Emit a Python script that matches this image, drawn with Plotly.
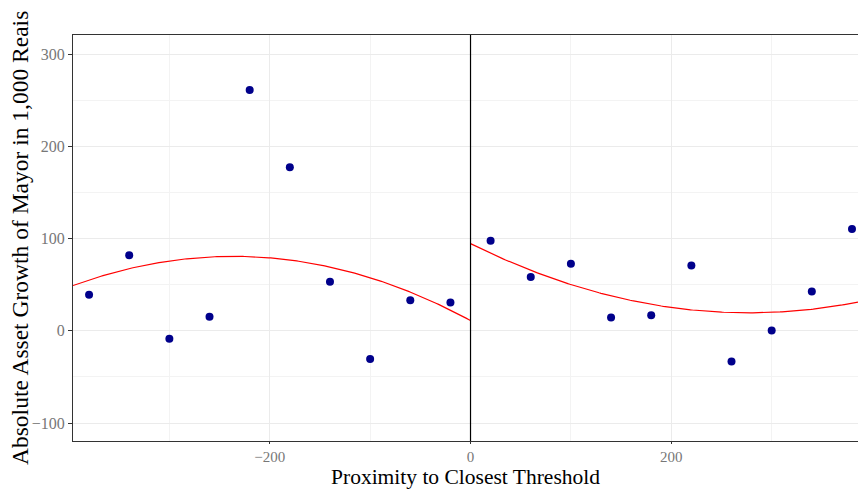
import numpy as np
import plotly.graph_objects as go

# Binned means (left and right of threshold)
x_left = [-380, -340, -300, -260, -220, -180, -140, -100, -60, -20]
y_left = [39.1, 81.8, -8.7, 15.2, 260.9, 177.3, 53.2, -30.4, 33.2, 30.7]
x_right = [20, 60, 100, 140, 180, 220, 260, 300, 340, 380]
y_right = [97.7, 58.2, 72.7, 14.4, 16.9, 70.9, -33.3, 0.3, 42.7, 110.3]

# Quadratic fit coefficients (a, b, c) for each side
fit_left = [-0.0012426, -0.58775, 11.2]
fit_right = [0.000977, -0.54126, 94.5]

x_range = [-396, 386]
y_range = [-119.4, 320.6]
threshold = 0

xl = np.linspace(x_range[0], threshold, 200)
xr = np.linspace(threshold, x_range[1], 200)
yl = np.polyval(fit_left, xl)
yr = np.polyval(fit_right, xr)

font_family = "Liberation Serif"

fig = go.Figure()
for xs, ys in [(x_left, y_left), (x_right, y_right)]:
    fig.add_trace(go.Scatter(x=xs, y=ys, mode="markers",
                             marker=dict(color="#00008B", size=8),
                             showlegend=False))
for xs, ys in [(xl, yl), (xr, yr)]:
    fig.add_trace(go.Scatter(x=xs, y=ys, mode="lines",
                             line=dict(color="#FF0000", width=1.2),
                             showlegend=False))

fig.add_shape(type="line", x0=threshold, x1=threshold, y0=0, y1=1,
              xref="x", yref="paper", line=dict(color="black", width=1.2))

grid_major = "#EBEBEB"
grid_minor = "#F3F3F3"

plot_w, plot_h = 785, 406

fig.add_annotation(text="Absolute Asset Growth of Mayor in 1,000 Reais",
                   xref="paper", yref="paper", x=-53 / plot_w, y=0.5,
                   xanchor="center", yanchor="middle", textangle=-90,
                   showarrow=False,
                   font=dict(size=23.5, color="black", family=font_family))

fig.update_layout(
    width=858, height=489,
    margin=dict(l=73, r=0, t=35, b=48),
    plot_bgcolor="white", paper_bgcolor="white",
    font=dict(family=font_family, color="black"),
    xaxis=dict(range=x_range, tickvals=[-200, 0, 200],
               showgrid=True, gridcolor=grid_major, gridwidth=1,
               minor=dict(tickvals=[-300, -100, 100, 300], showgrid=True,
                          gridcolor=grid_minor, gridwidth=1),
               showline=True, linecolor="#333333", linewidth=1.2, mirror=True,
               ticks="outside", ticklen=2, tickcolor="#333333",
               tickfont=dict(size=15, color="#777777", family=font_family),
               zeroline=False,
               title=dict(text="Proximity to Closest Threshold",
                          font=dict(size=21.5, color="black", family=font_family),
                          standoff=0)),
    yaxis=dict(range=y_range, tickvals=[-100, 0, 100, 200, 300],
               showgrid=True, gridcolor=grid_major, gridwidth=1,
               minor=dict(tickvals=[-50, 50, 150, 250], showgrid=True,
                          gridcolor=grid_minor, gridwidth=1),
               showline=True, linecolor="#333333", linewidth=1.2, mirror=False,
               ticks="outside", ticklen=4, tickcolor="#333333",
               tickfont=dict(size=16, color="#777777", family=font_family),
               zeroline=False),
)

fig.write_html("out.html")
